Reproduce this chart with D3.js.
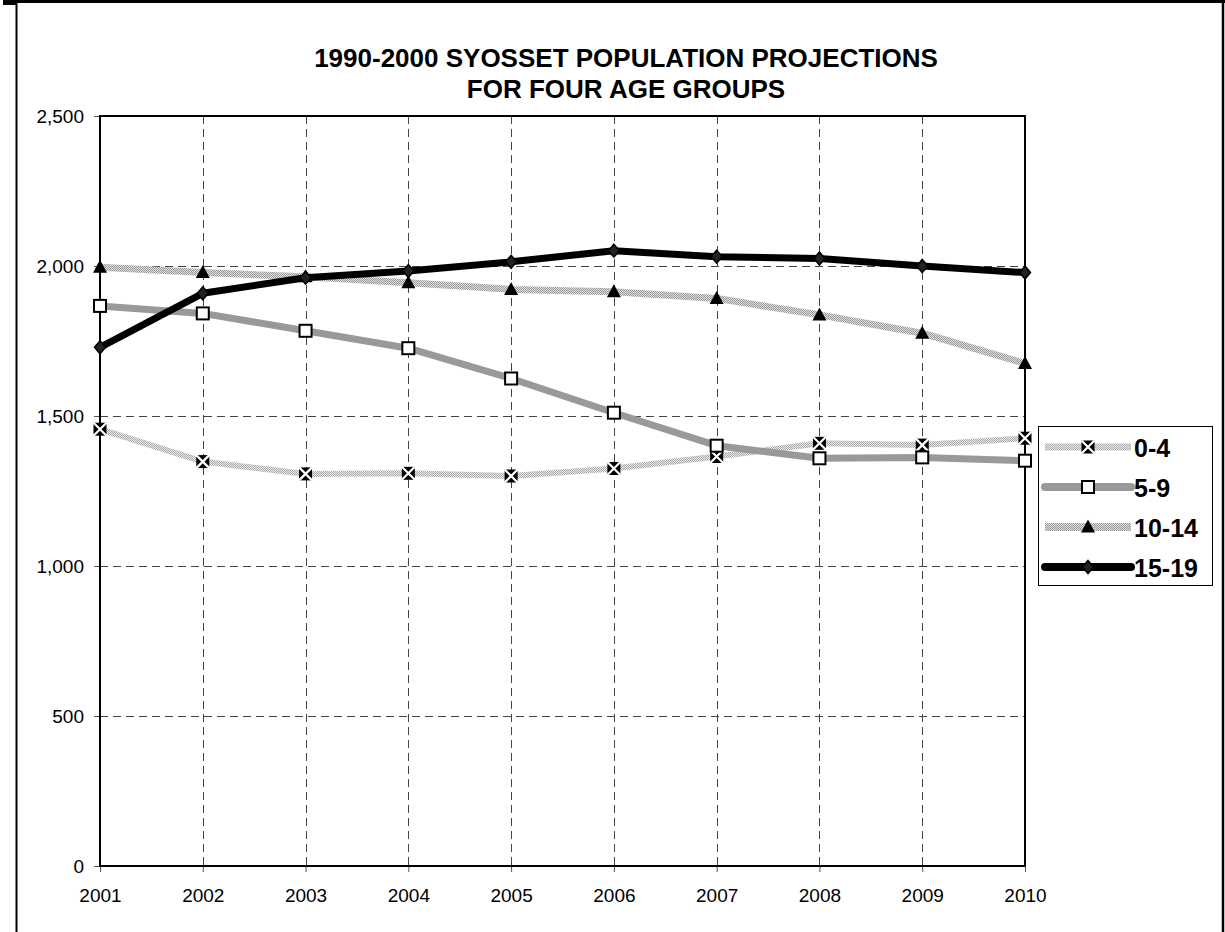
<!DOCTYPE html>
<html>
<head>
<meta charset="utf-8">
<script src="https://cdn.jsdelivr.net/npm/d3@7"></script>
<style>
  html, body { margin: 0; padding: 0; background: #fff; }
  svg { display: block; font-family: Arial, "Liberation Sans", sans-serif; }
</style>
</head>
<body>
<svg id="chart" width="1225" height="932"></svg>
<script>
// Projected population by age group, 2001-2010
const years = [2001, 2002, 2003, 2004, 2005, 2006, 2007, 2008, 2009, 2010];
const age0to4   = [1456, 1348, 1307, 1309, 1300, 1325, 1365, 1409, 1403, 1426];
const age5to9   = [1867, 1842, 1784, 1726, 1625, 1511, 1401, 1359, 1362, 1351];
const age10to14 = [1996, 1978, 1964, 1944, 1922, 1914, 1892, 1837, 1776, 1675];
const age15to19 = [1729, 1909, 1961, 1983, 2014, 2051, 2031, 2025, 2000, 1978];
const seriesNames = ["0-4", "5-9", "10-14", "15-19"];
const yTicks = [0, 500, 1000, 1500, 2000, 2500];
const titleLines = ["1990-2000 SYOSSET POPULATION PROJECTIONS", "FOR FOUR AGE GROUPS"];

const svg = d3.select("#chart");
const W = 1225, H = 932;
const plot = { left: 100, right: 1025, top: 116, bottom: 866 };

// textured grey fills used for the dotted-band series
const defs = svg.append("defs");
function checker(id, bg, fg) {
  const p = defs.append("pattern").attr("id", id)
    .attr("patternUnits", "userSpaceOnUse").attr("width", 2).attr("height", 2);
  p.append("rect").attr("width", 2).attr("height", 2).attr("fill", bg);
  p.append("rect").attr("width", 1).attr("height", 1).attr("fill", fg);
  p.append("rect").attr("x", 1).attr("y", 1).attr("width", 1).attr("height", 1).attr("fill", fg);
}
checker("dotsLight", "#ececec", "#a8a8a8");
checker("dotsMid", "#e0e0e0", "#999999");

// outer chart frame
svg.append("rect").attr("x", 3).attr("y", 0).attr("width", 13).attr("height", 5).attr("fill", "#000");
svg.append("line").attr("x1", 3).attr("x2", W).attr("y1", 1.5).attr("y2", 1.5)
  .attr("stroke", "#000").attr("stroke-width", 3);
svg.append("line").attr("x1", 16.5).attr("x2", 16.5).attr("y1", 2).attr("y2", H)
  .attr("stroke", "#000").attr("stroke-width", 2);
svg.append("line").attr("x1", 1223).attr("x2", 1223).attr("y1", 2).attr("y2", H)
  .attr("stroke", "#000").attr("stroke-width", 2.5);

const x = d3.scaleLinear().domain([years[0], years[years.length - 1]]).range([plot.left, plot.right]);
const y = d3.scaleLinear().domain([0, 2500]).range([plot.bottom, plot.top]);

// gridlines
const grid = svg.append("g").attr("stroke", "#444").attr("stroke-width", 1).attr("stroke-dasharray", "8,5");
grid.selectAll("line.h").data(yTicks.filter(v => v > 0 && v < 2500)).join("line")
  .attr("x1", plot.left).attr("x2", plot.right)
  .attr("y1", d => Math.round(y(d)) + 0.5).attr("y2", d => Math.round(y(d)) + 0.5);
grid.selectAll("line.v").data(years.slice(1, -1)).join("line")
  .attr("y1", plot.top).attr("y2", plot.bottom)
  .attr("x1", d => Math.round(x(d)) + 0.5).attr("x2", d => Math.round(x(d)) + 0.5);

// axes
const yAxis = svg.append("g").attr("transform", `translate(${plot.left},0)`)
  .call(d3.axisLeft(y).tickValues(yTicks).tickSize(6).tickPadding(10).tickFormat(d3.format(",")));
const xAxis = svg.append("g").attr("transform", `translate(0,${plot.bottom})`)
  .call(d3.axisBottom(x).tickValues(years).tickSize(6).tickPadding(17).tickFormat(d => String(d)));
[yAxis, xAxis].forEach(a => {
  a.select(".domain").remove();
  a.selectAll(".tick line").attr("stroke", "#555");
  a.selectAll(".tick text").attr("fill", "#000").style("font-size", "19px")
    .style("font-family", "Arial, 'Liberation Sans', sans-serif");
});

// plot border
svg.append("rect").attr("x", plot.left).attr("y", plot.top)
  .attr("width", plot.right - plot.left).attr("height", plot.bottom - plot.top)
  .attr("fill", "none").attr("stroke", "#000").attr("stroke-width", 2);

// marker shapes
function drawMarker(g, kind) {
  if (kind === "x") {
    g.append("rect").attr("x", -6.5).attr("y", -6.5).attr("width", 13).attr("height", 13).attr("fill", "#000");
    g.append("path").attr("d", "M-6.5,-6.5L6.5,6.5M6.5,-6.5L-6.5,6.5")
      .attr("stroke", "#fff").attr("stroke-width", 2.2);
  } else if (kind === "square") {
    g.append("rect").attr("x", -6).attr("y", -6).attr("width", 12).attr("height", 12)
      .attr("fill", "#fff").attr("stroke", "#000").attr("stroke-width", 2);
  } else if (kind === "triangle") {
    g.append("path").attr("d", "M0,-7.5L7,5.5L-7,5.5Z").attr("fill", "#000");
  } else if (kind === "diamond") {
    g.append("path").attr("d", "M0,-6.5L5.5,0L0,6.5L-5.5,0Z")
      .attr("fill", "#222").attr("stroke", "#000").attr("stroke-width", 1.5);
  }
}

const series = [
  { name: seriesNames[0], values: age0to4,   stroke: "url(#dotsLight)", width: 6, marker: "x" },
  { name: seriesNames[1], values: age5to9,   stroke: "#999999",         width: 7, marker: "square" },
  { name: seriesNames[2], values: age10to14, stroke: "url(#dotsMid)",   width: 7, marker: "triangle" },
  { name: seriesNames[3], values: age15to19, stroke: "#000000",         width: 7, marker: "diamond" }
];

const line = d3.line().x((d, i) => x(years[i])).y(d => y(d));

series.forEach(s => {
  const g = svg.append("g");
  g.append("path").attr("d", line(s.values)).attr("fill", "none")
    .attr("stroke", s.stroke).attr("stroke-width", s.width)
    .attr("stroke-linejoin", "round");
  s.values.forEach((v, i) => {
    drawMarker(g.append("g").attr("transform", `translate(${x(years[i])},${y(v)})`), s.marker);
  });
});

// title
const title = svg.append("text").attr("text-anchor", "middle")
  .style("font-size", "26px").style("font-weight", "bold").attr("fill", "#000");
title.append("tspan").attr("x", 626).attr("y", 67).text(titleLines[0]);
title.append("tspan").attr("x", 626).attr("y", 98).text(titleLines[1]);

// legend
const legend = svg.append("g");
legend.append("rect").attr("x", 1038.5).attr("y", 426.5).attr("width", 174).attr("height", 159)
  .attr("fill", "#fff").attr("stroke", "#000").attr("stroke-width", 1);
series.forEach((s, i) => {
  const cy = 447 + i * 40;
  const row = legend.append("g");
  row.append("line").attr("x1", 1045).attr("x2", 1131).attr("y1", cy).attr("y2", cy)
    .attr("stroke", s.stroke).attr("stroke-width", s.width + 1)
    .attr("stroke-linecap", s.marker === "square" || s.marker === "diamond" ? "round" : "butt");
  drawMarker(row.append("g").attr("transform", `translate(1088,${cy})`), s.marker);
  row.append("text").attr("x", 1134).attr("y", cy + 10)
    .style("font-size", "25px").style("font-weight", "bold").attr("fill", "#000").text(s.name);
});
</script>
</body>
</html>
